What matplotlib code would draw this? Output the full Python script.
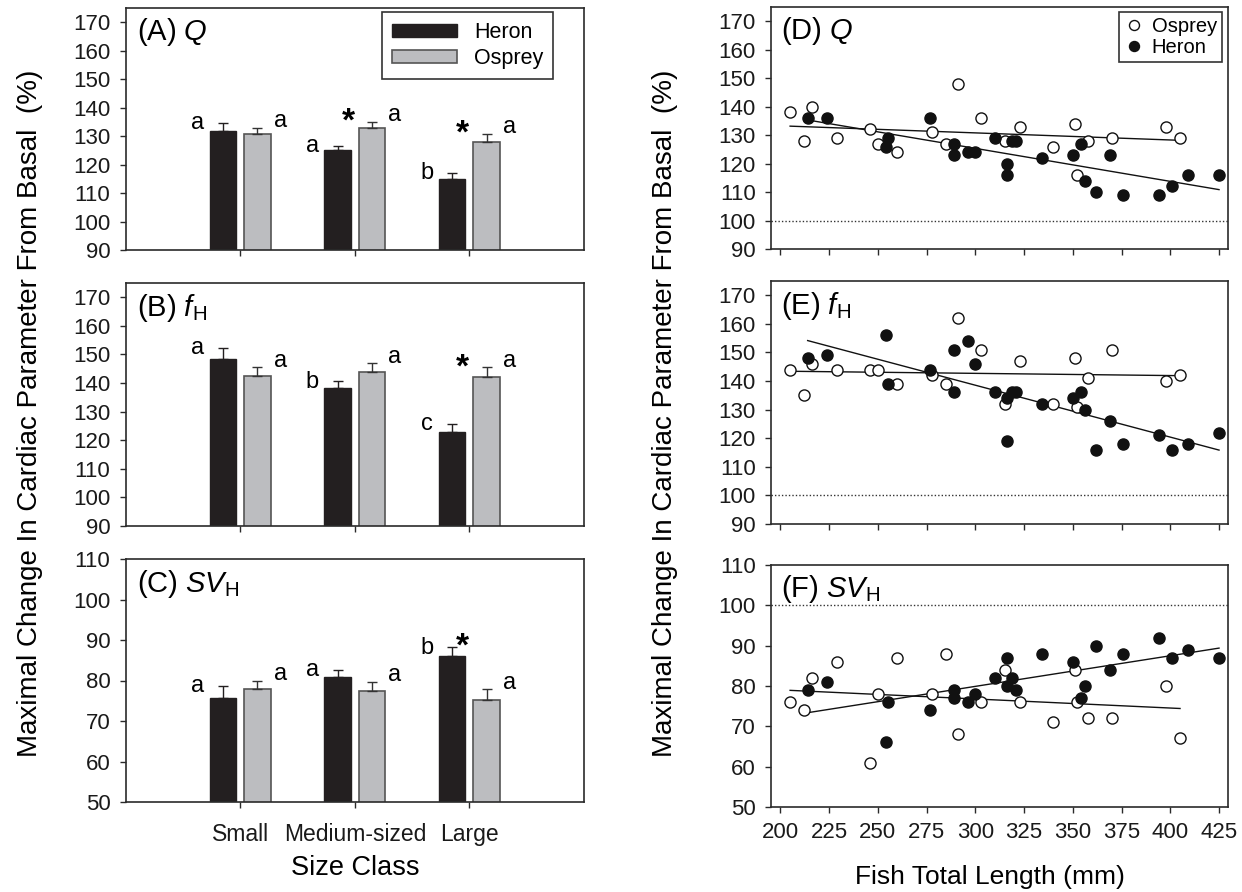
import matplotlib
matplotlib.use('Agg')
import matplotlib.pyplot as plt
import numpy as np

plt.rcParams['font.family'] = ['Liberation Sans', 'DejaVu Sans']
plt.rcParams['mathtext.fontset'] = 'custom'
plt.rcParams['mathtext.rm'] = 'Liberation Sans'
plt.rcParams['mathtext.it'] = 'Liberation Sans:italic'

# ---- bar data (left column), mean and upper SE ----
size_classes = ['Small', 'Medium-sized', 'Large']

q_heron = [131.7, 125.0, 115.0]
q_heron_se = [3.0, 1.7, 2.0]
q_osprey = [130.9, 132.7, 128.1]
q_osprey_se = [2.0, 2.2, 2.6]

fh_heron = [148.3, 138.3, 122.8]
fh_heron_se = [4.0, 2.3, 2.8]
fh_osprey = [142.5, 143.7, 142.2]
fh_osprey_se = [3.0, 3.2, 3.3]

sv_heron = [75.7, 80.9, 86.1]
sv_heron_se = [3.0, 1.7, 2.1]
sv_osprey = [77.8, 77.4, 75.3]
sv_osprey_se = [2.2, 2.3, 2.5]

q_heron_letters = ['a', 'a', 'b']
q_osprey_letters = ['a', 'a', 'a']
q_stars = [False, True, True]
fh_heron_letters = ['a', 'b', 'c']
fh_osprey_letters = ['a', 'a', 'a']
fh_stars = [False, False, True]
sv_heron_letters = ['a', 'a', 'b']
sv_osprey_letters = ['a', 'a', 'a']
sv_stars = [False, False, True]

# ---- scatter data (right column) ----
heron_len = [214, 224, 254, 255, 277, 289, 289, 296, 300, 310, 316, 316, 319,
             321, 334, 350, 354, 356, 362, 369, 376, 394, 401, 409, 425]
heron_q = [136, 136, 126, 129, 136, 127, 123, 124, 124, 129, 120, 116, 128,
           128, 122, 123, 127, 114, 110, 123, 109, 109, 112, 116, 116]
heron_fh = [148, 149, 156, 139, 144, 151, 136, 154, 146, 136, 134, 119, 136,
            136, 132, 134, 136, 130, 116, 126, 118, 121, 116, 118, 122]
heron_sv = [79, 81, 66, 76, 74, 79, 77, 76, 78, 82, 87, 80, 82,
            79, 88, 86, 77, 80, 90, 84, 88, 92, 87, 89, 87]

osprey_len = [205, 212, 216, 229, 246, 250, 260, 278, 285, 291, 303, 315, 323,
              340, 351, 352, 358, 370, 398, 405]
osprey_q = [138, 128, 140, 129, 132, 127, 124, 131, 127, 148, 136, 128, 133,
            126, 134, 116, 128, 129, 133, 129]
osprey_fh = [144, 135, 146, 144, 144, 144, 139, 142, 139, 162, 151, 132, 147,
             132, 148, 131, 141, 151, 140, 142]
osprey_sv = [76, 74, 82, 86, 61, 78, 87, 78, 88, 68, 76, 84, 76,
             71, 84, 76, 72, 72, 80, 67]

HERON_C = '#231f20'
OSPREY_C = '#bcbdc0'
FRAME_C = '#2a2a2a'

W, H = 1242, 892
fig = plt.figure(figsize=(W / 100, H / 100), dpi=100)


def add_ax(x0, x1, top, bot):
    return fig.add_axes([x0 / W, 1 - bot / H, (x1 - x0) / W, (bot - top) / H])


def style_ax(ax):
    for s in ax.spines.values():
        s.set_color(FRAME_C)
        s.set_linewidth(1.2)
    ax.tick_params(direction='out', length=4, width=1, colors=FRAME_C,
                   labelcolor='#1a1a1a', labelsize=16, pad=7, top=False, right=False)


def bar_panel(ax, label, heron, heron_se, osprey, osprey_se, hl, ol, stars, ylim, show_x):
    pos = np.arange(1, len(size_classes) + 1)
    off = 0.15
    bw = 0.23
    ax.bar(pos - off, heron, bw, color=HERON_C, edgecolor=HERON_C,
           lw=1, zorder=2, label='Heron')
    ax.bar(pos + off, osprey, bw, color=OSPREY_C, edgecolor='#555555',
           lw=1.2, zorder=2, label='Osprey')
    ax.errorbar(pos - off, heron, yerr=[np.zeros(len(pos)), heron_se], fmt='none',
                ecolor=HERON_C, elinewidth=1, capsize=3.6, capthick=1, zorder=3)
    ax.errorbar(pos + off, osprey, yerr=[np.zeros(len(pos)), osprey_se], fmt='none',
                ecolor='#333333', elinewidth=1, capsize=3.6, capthick=1, zorder=3)
    for i, p in enumerate(pos):
        ht = heron[i] + heron_se[i]
        ot = osprey[i] + osprey_se[i]
        ax.annotate(hl[i], (p - 0.37, ht), xytext=(0, -4.5), textcoords='offset points',
                    ha='center', va='baseline', fontsize=17)
        ax.annotate(ol[i], (p + 0.35, ot), xytext=(0, 0.5), textcoords='offset points',
                    ha='center', va='baseline', fontsize=17)
        if stars[i]:
            ax.annotate('*', (p - 0.06, max(ht, ot)), xytext=(0, -6.3),
                        textcoords='offset points', ha='center', va='baseline',
                        fontsize=24, fontweight='bold')
    ax.set_xlim(0, 4)
    ax.set_ylim(*ylim)
    ax.set_yticks(np.arange(ylim[0], ylim[1] + 0.1, 10))
    ax.set_xticks(pos)
    style_ax(ax)
    if show_x:
        ax.set_xticklabels(size_classes, fontsize=16.5)
        ax.tick_params(axis='x', pad=11)
    else:
        ax.set_xticklabels([])
    ax.text(0.025, 0.965, label, transform=ax.transAxes, ha='left', va='top', fontsize=21)


def scatter_panel(ax, label, hy, oy, ylim, show_x):
    ax.axhline(100, color='#333333', lw=1, ls=(0, (1, 1.5)), zorder=1)
    for xs, ys in ((osprey_len, oy), (heron_len, hy)):
        k = np.polyfit(xs, ys, 1)
        xx = np.array([min(xs), max(xs)])
        ax.plot(xx, np.polyval(k, xx), color='#111111', lw=1, zorder=2)
    ax.plot(osprey_len, oy, 'o', ms=8, mfc='white', mec='#111111', mew=1,
            ls='none', zorder=3, label='Osprey')
    ax.plot(heron_len, hy, 'o', ms=8, mfc='#111111', mec='#111111', mew=1,
            ls='none', zorder=3, label='Heron')
    ax.set_xlim(195.2, 429.6)
    ax.set_ylim(*ylim)
    ax.set_yticks(np.arange(ylim[0], ylim[1] + 0.1, 10))
    ax.set_xticks(np.arange(200, 426, 25))
    if not show_x:
        ax.set_xticklabels([])
    ax.text(0.022, 0.965, label, transform=ax.transAxes, ha='left', va='top', fontsize=21)
    style_ax(ax)


LX0, LX1 = 125.7, 584
RX0, RX1 = 771, 1228

axA = add_ax(LX0, LX1, 8, 250)
axB = add_ax(LX0, LX1, 283, 526)
axC = add_ax(LX0, LX1, 559, 802)
axD = add_ax(RX0, RX1, 7, 249)
axE = add_ax(RX0, RX1, 281, 524)
axF = add_ax(RX0, RX1, 565, 807)

bar_panel(axA, r'(A) $Q$', q_heron, q_heron_se, q_osprey, q_osprey_se,
          q_heron_letters, q_osprey_letters, q_stars, (90, 175), False)
bar_panel(axB, r'(B) $f_{\rm H}$', fh_heron, fh_heron_se, fh_osprey, fh_osprey_se,
          fh_heron_letters, fh_osprey_letters, fh_stars, (90, 175), False)
bar_panel(axC, r'(C) $SV_{\rm H}$', sv_heron, sv_heron_se, sv_osprey, sv_osprey_se,
          sv_heron_letters, sv_osprey_letters, sv_stars, (50, 110), True)

scatter_panel(axD, r'(D) $Q$', heron_q, osprey_q, (90, 175), False)
scatter_panel(axE, r'(E) $f_{\rm H}$', heron_fh, osprey_fh, (90, 175), False)
scatter_panel(axF, r'(F) $SV_{\rm H}$', heron_sv, osprey_sv, (50, 110), True)

legA = axA.legend(loc='upper right', bbox_to_anchor=(0.932, 0.983), borderaxespad=0,
                  fontsize=15.5, fancybox=False, framealpha=1, edgecolor='#333333',
                  handlelength=3.0, handleheight=0.55, borderpad=0.45, labelspacing=0.25)
legA.get_frame().set_linewidth(1.2)

legD = axD.legend(loc='upper right', bbox_to_anchor=(0.987, 0.979), borderaxespad=0,
                  fontsize=14.5, fancybox=False, framealpha=1, edgecolor='#333333',
                  handlelength=1.0, handletextpad=0.4, borderpad=0.25, labelspacing=0.1,
                  markerscale=0.9)
legD.get_frame().set_linewidth(1.2)

ylab = 'Maximal Change In Cardiac Parameter From Basal  (%)'
fig.text(30 / W, 1 - 413 / H, ylab, rotation=90, ha='center', va='center', fontsize=20)
fig.text(665 / W, 1 - 413 / H, ylab, rotation=90, ha='center', va='center', fontsize=20)
fig.text(355 / W, 1 - 868 / H, 'Size Class', ha='center', va='center', fontsize=19.5)
fig.text(990 / W, 1 - 877 / H, 'Fish Total Length (mm)', ha='center', va='center', fontsize=19)

fig.savefig('out.png', dpi=100)
